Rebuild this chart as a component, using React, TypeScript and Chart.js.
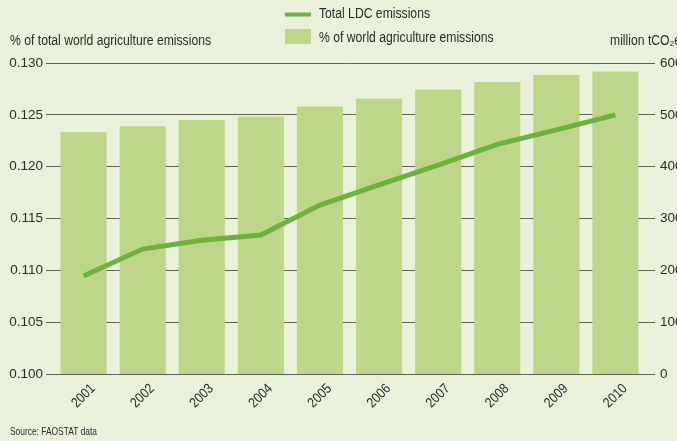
import React, { useEffect, useRef } from "react";
import { Chart, registerables } from "chart.js";

Chart.register(...registerables);

const years = ["2001", "2002", "2003", "2004", "2005", "2006", "2007", "2008", "2009", "2010"];
const shareOfWorld = [0.12334, 0.1239, 0.12449, 0.12482, 0.1258, 0.12656, 0.12744, 0.12817, 0.12885, 0.12918];
const ldcEmissions = [189, 241, 258, 268, 326, 365, 403, 443, 471, 500];
const leftTitle = "% of total world agriculture emissions";
const rightTitle = "million tCO\u2082e";
const lineLegend = "Total LDC emissions";
const barLegend = "% of world agriculture emissions";
const sourceText = "Source: FAOSTAT data";

const FONT = "'Liberation Sans', Arial, sans-serif";
const BG = "#e9f1da";
const BAR = "#bed68a";
const LINE = "#6cb23d";
const GRID = "#5f5f5f";
const TEXT = "#2b2b2b";
const SQUEEZE = 0.87;

function narrowText(ctx: any, text: string, x: number, y: number, sx: number, align: string = "left") {
  ctx.save();
  ctx.translate(x, y);
  ctx.scale(sx, 1);
  ctx.textAlign = align;
  ctx.fillText(text, 0, 0);
  ctx.restore();
}

const decorPlugin = {
  id: "decor",
  beforeDraw(chart: any) {
    const { ctx, width, height } = chart;
    ctx.save();
    ctx.fillStyle = BG;
    ctx.fillRect(0, 0, width, height);
    ctx.restore();
  },
  afterDraw(chart: any) {
    const { ctx } = chart;
    ctx.save();
    ctx.fillStyle = TEXT;
    ctx.textBaseline = "middle";
    ctx.font = `14px ${FONT}`;
    narrowText(ctx, leftTitle, 10, 41, SQUEEZE);
    narrowText(ctx, rightTitle, 610, 41, SQUEEZE);
    // legend
    ctx.strokeStyle = LINE;
    ctx.lineWidth = 4;
    ctx.beginPath();
    ctx.moveTo(285, 14.5);
    ctx.lineTo(311, 14.5);
    ctx.stroke();
    ctx.fillStyle = BAR;
    ctx.fillRect(285, 29, 26, 15);
    ctx.fillStyle = TEXT;
    narrowText(ctx, lineLegend, 319, 14, SQUEEZE);
    narrowText(ctx, barLegend, 319, 38, SQUEEZE);
    // x tick labels, rotated and centred under each bar
    const xs = chart.scales.x;
    ctx.font = `14px ${FONT}`;
    xs.ticks.forEach((t: any, i: number) => {
      const px = xs.getPixelForTick(i);
      ctx.save();
      ctx.translate(px, 396);
      ctx.rotate(-Math.PI / 4);
      ctx.scale(SQUEEZE, 1);
      ctx.textAlign = "center";
      ctx.fillText(String(t.label), 0, 0);
      ctx.restore();
    });
    ctx.font = `10.5px ${FONT}`;
    narrowText(ctx, sourceText, 10, 432, 0.8);
    ctx.restore();
  },
};

export default function App() {
  const ref = useRef<HTMLCanvasElement>(null);
  useEffect(() => {
    if (!ref.current) return;
    const chart = new Chart(ref.current, {
      data: {
        labels: years,
        datasets: [
          {
            type: "line",
            label: lineLegend,
            data: ldcEmissions,
            yAxisID: "yR",
            borderColor: LINE,
            borderWidth: 5,
            pointRadius: 0,
            tension: 0,
            order: 0,
          },
          {
            type: "bar",
            label: barLegend,
            data: shareOfWorld,
            yAxisID: "yL",
            backgroundColor: BAR,
            barPercentage: 0.78,
            categoryPercentage: 1,
            order: 1,
          },
        ],
      } as any,
      options: {
        animation: false,
        responsive: false,
        maintainAspectRatio: false,
        layout: { padding: { top: 63, left: 0, right: 0, bottom: 0 } },
        plugins: { legend: { display: false }, tooltip: { enabled: false } },
        scales: {
          x: {
            type: "category",
            offset: true,
            grid: { display: false, drawTicks: false },
            border: { display: false },
            ticks: { display: false },
            afterFit(scale: any) {
              scale.height = 67;
            },
          },
          yL: {
            type: "linear",
            position: "left",
            min: 0.1,
            max: 0.13,
            grid: { color: GRID, lineWidth: 1, tickLength: 8, drawOnChartArea: true },
            border: { display: false },
            ticks: {
              stepSize: 0.005,
              color: TEXT,
              font: { family: FONT, size: 13.5 },
              padding: 3,
              callback: (v: any) => Number(v).toFixed(3),
            },
            afterFit(scale: any) {
              scale.width = 54;
            },
          },
          yR: {
            type: "linear",
            position: "right",
            min: 0,
            max: 600,
            grid: { color: GRID, lineWidth: 1, tickLength: 10, drawOnChartArea: false },
            border: { display: false },
            ticks: {
              stepSize: 100,
              color: TEXT,
              font: { family: FONT, size: 13.5 },
              padding: 5,
            },
            afterFit(scale: any) {
              scale.width = 62;
            },
          },
        },
      } as any,
      plugins: [decorPlugin],
    });
    return () => chart.destroy();
  }, []);

  return (
    <div
      style={{
        position: "fixed",
        left: 0,
        top: 0,
        width: 677,
        height: 441,
        overflow: "hidden",
        background: BG,
      }}
    >
      <canvas ref={ref} width={707} height={441} style={{ display: "block", width: 707, height: 441 }} />
    </div>
  );
}
